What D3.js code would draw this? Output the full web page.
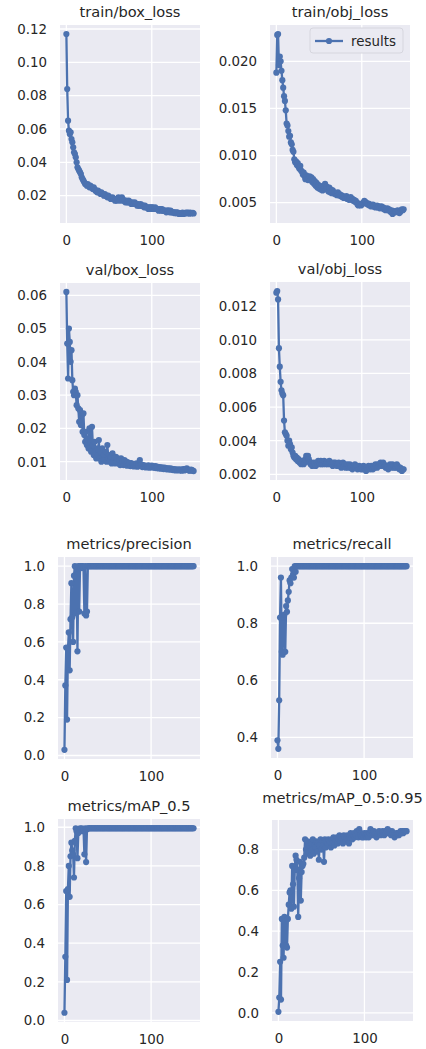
<!DOCTYPE html>
<html>
<head>
<meta charset="utf-8">
<script src="https://cdn.jsdelivr.net/npm/d3@7"></script>
<style>
  html, body { margin: 0; padding: 0; background: #ffffff; }
  svg { display: block; font-family: "DejaVu Sans", sans-serif; }
</style>
</head>
<body>
<svg id="chart" width="426" height="1049"></svg>
<script>
// ---------------- DATA ----------------
const titles = ["train/box_loss", "train/obj_loss", "val/box_loss", "val/obj_loss",
  "metrics/precision", "metrics/recall", "metrics/mAP_0.5", "metrics/mAP_0.5:0.95"];
const legendLabel = "results";
const xTicks = [0, 100];

const trainBox = [
  0.117, 0.084, 0.065, 0.059, 0.057, 0.058, 0.054, 0.052, 0.049, 0.046,
  0.045, 0.043, 0.040, 0.037, 0.036, 0.035, 0.034, 0.033, 0.031, 0.030,
  0.029, 0.028, 0.027, 0.027, 0.026, 0.027, 0.026, 0.025, 0.026, 0.025,
  0.025, 0.024, 0.025, 0.024, 0.023, 0.023, 0.022, 0.023, 0.022, 0.022,
  0.021, 0.022, 0.021, 0.021, 0.020, 0.021, 0.020, 0.020, 0.019, 0.020,
  0.019, 0.019, 0.018, 0.018, 0.019, 0.018, 0.018, 0.017, 0.018, 0.017,
  0.018, 0.019, 0.018, 0.017, 0.018, 0.019, 0.018, 0.017, 0.017, 0.016,
  0.017, 0.016, 0.016, 0.017, 0.016, 0.016, 0.015, 0.016, 0.015, 0.015,
  0.016, 0.015, 0.015, 0.014, 0.015, 0.014, 0.014, 0.015, 0.014, 0.014,
  0.014, 0.013, 0.014, 0.013, 0.013, 0.013, 0.012, 0.013, 0.013, 0.012,
  0.013, 0.013, 0.012, 0.012, 0.013, 0.012, 0.012, 0.012, 0.011, 0.012,
  0.012, 0.011, 0.012, 0.011, 0.011, 0.011, 0.011, 0.010, 0.011, 0.011,
  0.011, 0.010, 0.011, 0.010, 0.010, 0.010, 0.010, 0.0095, 0.010, 0.0095,
  0.010, 0.0095, 0.009, 0.0095, 0.009, 0.0092, 0.0098, 0.009, 0.0095, 0.0093,
  0.0098, 0.0095, 0.0098, 0.0097, 0.0092, 0.0098, 0.0096, 0.0094, 0.0097, 0.0093
];
const trainObj = [
  0.0188, 0.0228, 0.0229, 0.0196, 0.0205, 0.0200, 0.0190, 0.0180, 0.0172, 0.0163,
  0.0158, 0.0148, 0.0134, 0.0132, 0.0126, 0.0120, 0.0121, 0.0114, 0.0112, 0.0106,
  0.0104, 0.0096, 0.0093, 0.0094, 0.0090, 0.0092, 0.0088, 0.0086, 0.0089, 0.0084,
  0.0083, 0.0080, 0.0082, 0.0078, 0.0075, 0.0079, 0.0077, 0.0074, 0.0076, 0.0078,
  0.0074, 0.0077, 0.0072, 0.0075, 0.0070, 0.0073, 0.0068, 0.0071, 0.0066, 0.0069,
  0.0065, 0.0068, 0.0064, 0.0067, 0.0063, 0.0066, 0.0068, 0.0070, 0.0064, 0.0067,
  0.0065, 0.0062, 0.0066, 0.0061, 0.0064, 0.0060, 0.0063, 0.0060, 0.0061, 0.0059,
  0.0060, 0.0058, 0.0061, 0.0058, 0.0059, 0.0057, 0.0058, 0.0056, 0.0057, 0.0055,
  0.0056, 0.0055, 0.0057, 0.0054, 0.0055, 0.0053, 0.0055, 0.0056, 0.0053, 0.0054,
  0.0052, 0.0053, 0.0051, 0.0052, 0.0050, 0.0048, 0.0047, 0.0049, 0.0048, 0.0047,
  0.0048, 0.0049, 0.0050, 0.0052, 0.0051, 0.0050, 0.0049, 0.0048, 0.0049, 0.0047,
  0.0048, 0.0046, 0.0047, 0.0048, 0.0046, 0.0047, 0.0045, 0.0046, 0.0047, 0.0045,
  0.0046, 0.0044, 0.0045, 0.0046, 0.0044, 0.0045, 0.0043, 0.0044, 0.0042, 0.0043,
  0.0044, 0.0042, 0.0043, 0.0041, 0.0040, 0.0042, 0.0038, 0.0039, 0.0041, 0.0040,
  0.0041, 0.0040, 0.0042, 0.0041, 0.0039, 0.0040, 0.0042, 0.0043, 0.0042, 0.0043
];
const valBox = [
  0.061, 0.0455, 0.035, 0.050, 0.046, 0.040, 0.0435, 0.0345, 0.031, 0.030,
  0.032, 0.031, 0.027, 0.030, 0.026, 0.022, 0.0255, 0.021, 0.024, 0.019,
  0.0245, 0.018, 0.016, 0.019, 0.015, 0.017, 0.014, 0.020, 0.016, 0.013,
  0.0205, 0.015, 0.012, 0.016, 0.013, 0.011, 0.014, 0.012, 0.0165, 0.011,
  0.013, 0.010, 0.014, 0.011, 0.012, 0.0105, 0.013, 0.010, 0.015, 0.011,
  0.012, 0.010, 0.0115, 0.0095, 0.0125, 0.010, 0.011, 0.0095, 0.0115, 0.010,
  0.011, 0.0095, 0.0105, 0.009, 0.0110, 0.0095, 0.0100, 0.0090, 0.0105, 0.0092,
  0.0100, 0.0088, 0.0098, 0.0090, 0.0095, 0.0087, 0.0096, 0.0089, 0.0093, 0.0086,
  0.0092, 0.0088, 0.0095, 0.0085, 0.0090, 0.0087, 0.0105, 0.0088, 0.0091, 0.0084,
  0.0090, 0.0086, 0.0088, 0.0083, 0.0087, 0.0085, 0.0089, 0.0082, 0.0086, 0.0084,
  0.0088, 0.0083, 0.0086, 0.0082, 0.0087, 0.0081, 0.0085, 0.0083, 0.0080, 0.0084,
  0.0082, 0.0079, 0.0083, 0.0080, 0.0078, 0.0082, 0.0079, 0.0081, 0.0077, 0.0080,
  0.0078, 0.0080, 0.0076, 0.0079, 0.0077, 0.0075, 0.0078, 0.0076, 0.0074, 0.0077,
  0.0075, 0.0076, 0.0074, 0.0077, 0.0075, 0.0073, 0.0076, 0.0078, 0.0074, 0.0076,
  0.0078, 0.0080, 0.0077, 0.0075, 0.0073, 0.0074, 0.0076, 0.0075, 0.0073, 0.0072
];
const valObj = [
  0.0128, 0.0129, 0.0124, 0.0095, 0.0084, 0.0075, 0.0070, 0.0068, 0.0067, 0.0052,
  0.0045, 0.0044, 0.0043, 0.0040, 0.0037, 0.0040, 0.0038, 0.0035, 0.0036, 0.0033,
  0.0031, 0.0030, 0.0031, 0.0029, 0.0030, 0.0028, 0.0029, 0.0027, 0.0028, 0.0026,
  0.0027, 0.0028, 0.0026, 0.0027, 0.0029, 0.0031, 0.0030, 0.0031, 0.0029, 0.0027,
  0.0026, 0.0027, 0.0025, 0.0026, 0.0027, 0.0026, 0.0025, 0.0027, 0.0026, 0.0028,
  0.0027, 0.0026, 0.0028, 0.0026, 0.0027, 0.0026, 0.0028, 0.0027, 0.0026, 0.0027,
  0.0026, 0.0027, 0.0028, 0.0026, 0.0027, 0.0026, 0.0025, 0.0027, 0.0026, 0.0027,
  0.0026, 0.0025, 0.0026, 0.0027, 0.0025, 0.0026, 0.0024, 0.0025, 0.0027, 0.0025,
  0.0026, 0.0024, 0.0025, 0.0026, 0.0024, 0.0025, 0.0026, 0.0024, 0.0025, 0.0023,
  0.0025, 0.0024, 0.0026, 0.0024, 0.0025, 0.0023, 0.0024, 0.0025, 0.0024, 0.0023,
  0.0024, 0.0023, 0.0025, 0.0024, 0.0023, 0.0022, 0.0024, 0.0023, 0.0025, 0.0024,
  0.0023, 0.0025, 0.0024, 0.0023, 0.0025, 0.0024, 0.0026, 0.0025, 0.0024, 0.0026,
  0.0025, 0.0026, 0.0027, 0.0025, 0.0026, 0.0027, 0.0026, 0.0025, 0.0024, 0.0025,
  0.0024, 0.0023, 0.0024, 0.0026, 0.0025, 0.0024, 0.0026, 0.0025, 0.0024, 0.0025,
  0.0024, 0.0026, 0.0025, 0.0024, 0.0023, 0.0024, 0.0023, 0.0022, 0.0023, 0.0023
];
const precision = [
  0.03, 0.37, 0.57, 0.19, 0.56, 0.65, 0.45, 0.72, 0.91, 0.73,
  0.60, 0.95, 1.0, 0.75, 0.99, 0.55, 1.0, 0.76, 1.0, 0.99,
  1.0, 1.0, 0.99, 0.75, 1.0, 0.74, 0.76, 1.0, 1.0, 1.0,
  1.0, 1.0, 1.0, 1.0, 1.0, 1.0, 1.0, 1.0, 1.0, 1.0,
  1.0, 1.0, 1.0, 1.0, 1.0, 1.0, 1.0, 1.0, 1.0, 1.0,
  1.0, 1.0, 1.0, 1.0, 1.0, 1.0, 1.0, 1.0, 1.0, 1.0,
  1.0, 1.0, 1.0, 1.0, 1.0, 1.0, 1.0, 1.0, 1.0, 1.0,
  1.0, 1.0, 1.0, 1.0, 1.0, 1.0, 1.0, 1.0, 1.0, 1.0,
  1.0, 1.0, 1.0, 1.0, 1.0, 1.0, 1.0, 1.0, 1.0, 1.0,
  1.0, 1.0, 1.0, 1.0, 1.0, 1.0, 1.0, 1.0, 1.0, 1.0,
  1.0, 1.0, 1.0, 1.0, 1.0, 1.0, 1.0, 1.0, 1.0, 1.0,
  1.0, 1.0, 1.0, 1.0, 1.0, 1.0, 1.0, 1.0, 1.0, 1.0,
  1.0, 1.0, 1.0, 1.0, 1.0, 1.0, 1.0, 1.0, 1.0, 1.0,
  1.0, 1.0, 1.0, 1.0, 1.0, 1.0, 1.0, 1.0, 1.0, 1.0,
  1.0, 1.0, 1.0, 1.0, 1.0, 1.0, 1.0, 1.0, 1.0, 1.0
];
const recall = [
  0.39, 0.36, 0.53, 0.82, 0.96, 0.70, 0.69, 0.82, 0.83, 0.70,
  0.86, 0.84, 0.88, 0.91, 0.95, 0.94, 0.96, 0.99, 0.97, 0.96,
  1.0, 0.98, 1.0, 1.0, 1.0, 1.0, 1.0, 1.0, 1.0, 1.0,
  1.0, 1.0, 1.0, 1.0, 1.0, 1.0, 1.0, 1.0, 1.0, 1.0,
  1.0, 1.0, 1.0, 1.0, 1.0, 1.0, 1.0, 1.0, 1.0, 1.0,
  1.0, 1.0, 1.0, 1.0, 1.0, 1.0, 1.0, 1.0, 1.0, 1.0,
  1.0, 1.0, 1.0, 1.0, 1.0, 1.0, 1.0, 1.0, 1.0, 1.0,
  1.0, 1.0, 1.0, 1.0, 1.0, 1.0, 1.0, 1.0, 1.0, 1.0,
  1.0, 1.0, 1.0, 1.0, 1.0, 1.0, 1.0, 1.0, 1.0, 1.0,
  1.0, 1.0, 1.0, 1.0, 1.0, 1.0, 1.0, 1.0, 1.0, 1.0,
  1.0, 1.0, 1.0, 1.0, 1.0, 1.0, 1.0, 1.0, 1.0, 1.0,
  1.0, 1.0, 1.0, 1.0, 1.0, 1.0, 1.0, 1.0, 1.0, 1.0,
  1.0, 1.0, 1.0, 1.0, 1.0, 1.0, 1.0, 1.0, 1.0, 1.0,
  1.0, 1.0, 1.0, 1.0, 1.0, 1.0, 1.0, 1.0, 1.0, 1.0,
  1.0, 1.0, 1.0, 1.0, 1.0, 1.0, 1.0, 1.0, 1.0, 1.0
];
const map50 = [
  0.04, 0.33, 0.67, 0.21, 0.68, 0.80, 0.64, 0.85, 0.92, 0.88,
  0.86, 0.74, 0.93, 0.995, 0.98, 0.84, 0.97, 0.99, 0.995, 0.99,
  0.995, 0.98, 0.99, 0.86, 0.995, 0.82, 0.99, 0.995, 0.995, 0.995,
  0.995, 0.995, 0.995, 0.995, 0.995, 0.995, 0.995, 0.995, 0.995, 0.995,
  0.995, 0.995, 0.995, 0.995, 0.995, 0.995, 0.995, 0.995, 0.995, 0.995,
  0.995, 0.995, 0.995, 0.995, 0.995, 0.995, 0.995, 0.995, 0.995, 0.995,
  0.995, 0.995, 0.995, 0.995, 0.995, 0.995, 0.995, 0.995, 0.995, 0.995,
  0.995, 0.995, 0.995, 0.995, 0.995, 0.995, 0.995, 0.995, 0.995, 0.995,
  0.995, 0.995, 0.995, 0.995, 0.995, 0.995, 0.995, 0.995, 0.995, 0.995,
  0.995, 0.995, 0.995, 0.995, 0.995, 0.995, 0.995, 0.995, 0.995, 0.995,
  0.995, 0.995, 0.995, 0.995, 0.995, 0.995, 0.995, 0.995, 0.995, 0.995,
  0.995, 0.995, 0.995, 0.995, 0.995, 0.995, 0.995, 0.995, 0.995, 0.995,
  0.995, 0.995, 0.995, 0.995, 0.995, 0.995, 0.995, 0.995, 0.995, 0.995,
  0.995, 0.995, 0.995, 0.995, 0.995, 0.995, 0.995, 0.995, 0.995, 0.995,
  0.995, 0.995, 0.995, 0.995, 0.995, 0.995, 0.995, 0.995, 0.995, 0.995
];
const map5095 = [
  0.005, 0.075, 0.25, 0.065, 0.46, 0.33, 0.27, 0.47, 0.45, 0.33,
  0.32, 0.46, 0.53, 0.59, 0.60, 0.51, 0.72, 0.63, 0.52, 0.70,
  0.77, 0.75, 0.70, 0.47, 0.66, 0.74, 0.55, 0.69, 0.72, 0.73,
  0.76, 0.85, 0.80, 0.78, 0.84, 0.79, 0.82, 0.77, 0.83, 0.80,
  0.85, 0.78, 0.82, 0.81, 0.84, 0.79, 0.83, 0.75, 0.82, 0.85,
  0.80, 0.84, 0.82, 0.74, 0.85, 0.81, 0.84, 0.83, 0.85, 0.82,
  0.84, 0.81, 0.85, 0.83, 0.86, 0.82, 0.85, 0.84, 0.86, 0.83,
  0.85, 0.87, 0.84, 0.86, 0.85, 0.83, 0.87, 0.86, 0.84, 0.86,
  0.87, 0.85, 0.83, 0.86, 0.88, 0.86, 0.85, 0.87, 0.88, 0.86,
  0.87, 0.89, 0.88, 0.86, 0.90, 0.87, 0.88, 0.86, 0.87, 0.86,
  0.88, 0.87, 0.86, 0.88, 0.87, 0.86, 0.88, 0.90, 0.89, 0.87,
  0.88, 0.89, 0.87, 0.88, 0.86, 0.87, 0.88, 0.89, 0.88, 0.87,
  0.88, 0.89, 0.88, 0.87, 0.89, 0.88, 0.89, 0.90, 0.88, 0.89,
  0.88, 0.87, 0.89, 0.88, 0.87, 0.86, 0.87, 0.88, 0.87, 0.88,
  0.87, 0.88, 0.89, 0.88, 0.89, 0.88, 0.89, 0.89, 0.89, 0.89
];

const yTicksTrainBox = [0.02, 0.04, 0.06, 0.08, 0.10, 0.12];
const yTicksTrainObj = [0.005, 0.010, 0.015, 0.020];
const yTicksValBox = [0.01, 0.02, 0.03, 0.04, 0.05, 0.06];
const yTicksValObj = [0.002, 0.004, 0.006, 0.008, 0.010, 0.012];
const yTicksPrecision = [0.0, 0.2, 0.4, 0.6, 0.8, 1.0];
const yTicksRecall = [0.4, 0.6, 0.8, 1.0];
const yTicksMap50 = [0.0, 0.2, 0.4, 0.6, 0.8, 1.0];
const yTicksMap5095 = [0.0, 0.2, 0.4, 0.6, 0.8];

// ---------------- LAYOUT ----------------
const series = [trainBox, trainObj, valBox, valObj, precision, recall, map50, map5095];
const yTicks = [yTicksTrainBox, yTicksTrainObj, yTicksValBox, yTicksValObj,
  yTicksPrecision, yTicksRecall, yTicksMap50, yTicksMap5095];
const yFormats = [".2f", ".3f", ".2f", ".3f", ".1f", ".1f", ".1f", ".1f"];
// [left, top, right, bottom] of each plotting area
const boxes = [
  [60, 25, 200, 223], [270, 25, 410, 223],
  [60, 283, 200, 480], [270, 282, 410, 480],
  [58, 557, 200, 759], [271, 557, 413, 758],
  [58, 819, 200, 1022], [272, 820, 413, 1021]
];
// vertical offset of each title baseline above the plotting area
const titleGap = [8, 8, 8, 8, 8, 8, 8, 17];

const COLOR = "#4c72b0";
const TEXT = "#262626";
const svg = d3.select("#chart");

series.forEach((vals, i) => {
  const [l, t, r, b] = boxes[i];
  const n = vals.length;
  const xPad = (n - 1) * 0.05;
  const x = d3.scaleLinear().domain([-xPad, n - 1 + xPad]).range([l, r]);
  const [ymin, ymax] = d3.extent(vals);
  const yPad = (ymax - ymin) * 0.05;
  const y = d3.scaleLinear().domain([ymin - yPad, ymax + yPad]).range([b, t]);

  const g = svg.append("g");
  g.append("rect").attr("x", l).attr("y", t).attr("width", r - l).attr("height", b - t)
    .attr("fill", "#eaeaf2");

  // grid
  g.selectAll(".gy").data(yTicks[i]).join("line")
    .attr("x1", l).attr("x2", r)
    .attr("y1", d => y(d)).attr("y2", d => y(d))
    .attr("stroke", "#ffffff").attr("stroke-width", 1.3);
  g.selectAll(".gx").data(xTicks).join("line")
    .attr("y1", t).attr("y2", b)
    .attr("x1", d => x(d)).attr("x2", d => x(d))
    .attr("stroke", "#ffffff").attr("stroke-width", 1.3);

  // axes tick labels via d3 axes (no domain / tick lines)
  const fmt = d3.format(yFormats[i]);
  const yAxis = g.append("g").attr("transform", `translate(${l - 9},0)`)
    .call(d3.axisLeft(y).tickValues(yTicks[i]).tickFormat(fmt).tickSize(0).tickPadding(4));
  yAxis.select(".domain").remove();
  yAxis.selectAll("text").attr("fill", TEXT).style("font-size", "13.4px")
    .style("font-family", "DejaVu Sans, sans-serif");

  const xAxis = g.append("g").attr("transform", `translate(0,${b + 9})`)
    .call(d3.axisBottom(x).tickValues(xTicks).tickFormat(d3.format("d")).tickSize(0).tickPadding(3));
  xAxis.select(".domain").remove();
  xAxis.selectAll("text").attr("fill", TEXT).style("font-size", "13.4px")
    .style("font-family", "DejaVu Sans, sans-serif");

  // title
  g.append("text").attr("x", (l + r) / 2).attr("y", t - titleGap[i])
    .attr("text-anchor", "middle").attr("fill", TEXT)
    .style("font-size", "14.6px").text(titles[i]);

  // line + markers
  const line = d3.line().x((d, k) => x(k)).y(d => y(d));
  g.append("path").datum(vals).attr("d", line)
    .attr("fill", "none").attr("stroke", COLOR).attr("stroke-width", 2.3)
    .attr("stroke-linejoin", "round");
  g.selectAll("circle.pt").data(vals).join("circle").attr("class", "pt")
    .attr("cx", (d, k) => x(k)).attr("cy", d => y(d)).attr("r", 3.1)
    .attr("fill", COLOR);

  // legend in second panel
  if (i === 1) {
    const lg = g.append("g");
    lg.append("rect").attr("x", 310).attr("y", 28).attr("width", 93).attr("height", 25)
      .attr("rx", 3).attr("fill", "#eaeaf2").attr("stroke", "#d6d6de").attr("stroke-width", 1);
    lg.append("line").attr("x1", 315).attr("x2", 343).attr("y1", 41).attr("y2", 41)
      .attr("stroke", COLOR).attr("stroke-width", 2.3);
    lg.append("circle").attr("cx", 329).attr("cy", 41).attr("r", 3.1).attr("fill", COLOR);
    lg.append("text").attr("x", 351).attr("y", 46).attr("fill", TEXT)
      .style("font-size", "13.4px").text(legendLabel);
  }
});
</script>
</body>
</html>
